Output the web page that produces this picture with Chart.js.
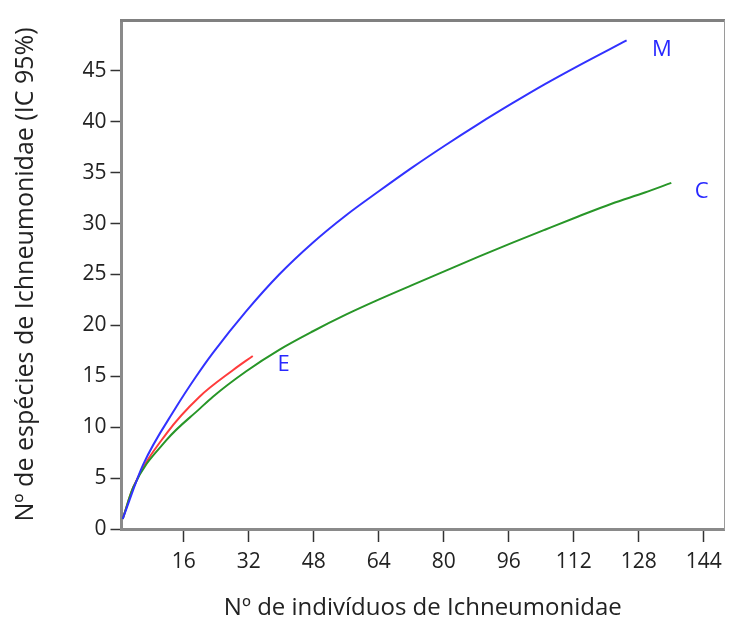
<!DOCTYPE html>
<html>
<head>
<meta charset="utf-8">
<script src="https://cdn.jsdelivr.net/npm/chart.js@4"></script>
<style>
  html, body { margin: 0; padding: 0; background: #fff; }
  #wrap { width: 729px; height: 624px; }
</style>
</head>
<body>
<div id="wrap"><canvas id="curveChart" width="729" height="624"></canvas></div>
<script>
// rarefaction curves
const mX = [1, 6, 14.2, 19.1, 23.2, 31.4, 39.5, 47.7, 55.9, 64.1, 72.2, 80.4, 88.6, 96.8, 104.9, 113.1, 125];
const mY = [1, 6.3, 12.0, 15.0, 17.3, 21.4, 25.0, 28.1, 30.8, 33.2, 35.5, 37.7, 39.8, 41.8, 43.7, 45.5, 48.0];

const cX = [1, 3.6, 11.8, 19.9, 23.2, 31.4, 39.5, 47.7, 55.9, 64.1, 72.2, 80.4, 88.6, 96.8, 104.9, 113.1, 121.3, 129.5, 136];
const cY = [1, 4.1, 8.75, 11.8, 13.0, 15.5, 17.6, 19.4, 21.05, 22.55, 23.95, 25.35, 26.75, 28.1, 29.4, 30.7, 31.95, 33.05, 34.0];

const eX = [1, 3.6, 11.8, 19.9, 28.1, 33];
const eY = [1, 4.1, 9.4, 13.0, 15.6, 17.0];

const xTicks = [16, 32, 48, 64, 80, 96, 112, 128, 144];
const yTicks = [0, 5, 10, 15, 20, 25, 30, 35, 40, 45];

const curveNames = ['M', 'C', 'E'];
const labelX = [133.7, 143.5, 40.6];
const labelY = [47.1, 33.1, 16.1];

const FONT = "'Open Sans', 'Noto Sans', sans-serif";

function pts(xs, ys) {
  return xs.map((x, i) => ({ x: x, y: ys[i] }));
}

const curveLabels = {
  id: 'curveLabels',
  afterDatasetsDraw(chart) {
    const c = chart.ctx;
    const xs = chart.scales.x, ys = chart.scales.y;
    c.save();
    c.fillStyle = 'rgb(40,40,255)';
    c.font = '22px ' + FONT;
    c.textAlign = 'center';
    c.textBaseline = 'middle';
    curveNames.forEach((n, i) => {
      c.fillText(n, xs.getPixelForValue(labelX[i]), ys.getPixelForValue(labelY[i]));
    });
    c.restore();
  }
};

const ctx = document.getElementById('curveChart').getContext('2d');
const chart = new Chart(ctx, {
  type: 'line',
  data: {
    datasets: [
      {
        label: 'M',
        data: pts(mX, mY),
        borderColor: 'rgb(50,50,255)',
        borderWidth: 2,
        pointRadius: 0,
        cubicInterpolationMode: 'monotone'
      },
      {
        label: 'C',
        data: pts(cX, cY),
        borderColor: 'rgb(40,150,40)',
        borderWidth: 2,
        pointRadius: 0,
        cubicInterpolationMode: 'monotone'
      },
      {
        label: 'E',
        data: pts(eX, eY),
        borderColor: 'rgb(255,60,60)',
        borderWidth: 2,
        pointRadius: 0,
        cubicInterpolationMode: 'monotone'
      }
    ]
  },
  options: {
    responsive: false,
    animation: false,
    layout: { padding: { top: 20, right: 3, left: 0, bottom: 0 } },
    plugins: {
      legend: { display: false },
      tooltip: { enabled: false }
    },
    scales: {
      x: {
        type: 'linear',
        min: 0.7,
        max: 149,
        afterBuildTicks: s => { s.ticks = xTicks.map(v => ({ value: v })); },
        afterFit: s => { s.height = 95; },
        border: { color: '#8a8a8a', width: 3 },
        grid: { drawOnChartArea: false, tickLength: 13, tickColor: '#333', tickWidth: 1.5 },
        ticks: { color: '#222', padding: 7, maxRotation: 0, font: { family: FONT, size: 21 } },
        title: { display: true, text: 'Nº de indivíduos de Ichneumonidae', color: '#222',
                 padding: { top: 4, bottom: 1 }, font: { family: FONT, size: 24 } }
      },
      y: {
        type: 'linear',
        min: 0,
        max: 50,
        afterBuildTicks: s => { s.ticks = yTicks.map(v => ({ value: v })); },
        afterFit: s => { s.width = 121.5; },
        border: { color: '#8a8a8a', width: 3 },
        grid: { drawOnChartArea: false, tickLength: 11, tickColor: '#333', tickWidth: 1.5 },
        ticks: { color: '#222', padding: 4, font: { family: FONT, size: 21 } },
        title: { display: true, text: 'Nº de espécies de Ichneumonidae (IC 95%)', color: '#222',
                 padding: { top: 11, bottom: 4 }, font: { family: FONT, size: 25 } }
      },
      xTop: {
        type: 'linear', position: 'top', min: 0.7, max: 149,
        afterFit: s => { s.height = 0; },
        border: { color: '#808080', width: 3 },
        grid: { display: false },
        ticks: { display: false }
      },
      yRight: {
        type: 'linear', position: 'right', min: 0, max: 50,
        afterFit: s => { s.width = 0; },
        border: { color: '#9a9a9a', width: 1 },
        grid: { display: false },
        ticks: { display: false }
      }
    }
  },
  plugins: [curveLabels]
});
</script>
</body>
</html>
